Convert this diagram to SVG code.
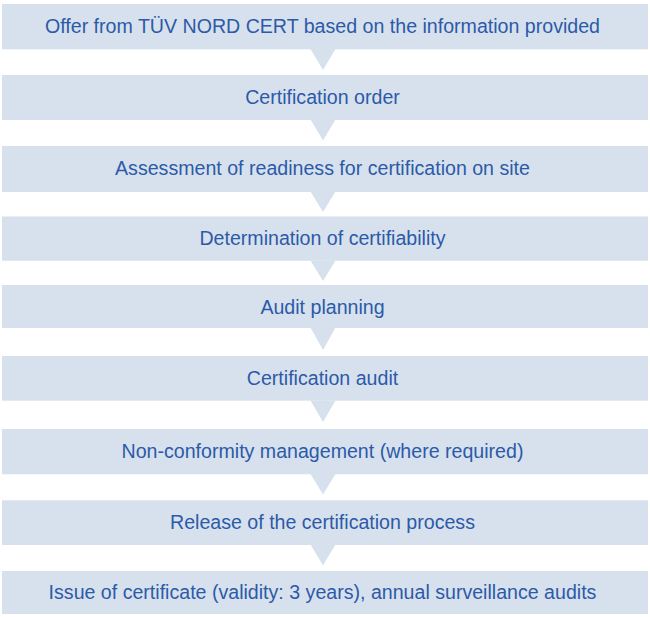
<svg xmlns="http://www.w3.org/2000/svg" width="650" height="617" viewBox="0 0 650 617">
<style>
.box{fill:#d7e1ed}
.lbl{font-family:"Liberation Sans",Arial,sans-serif;font-size:19.6px;fill:#2c5aa8;text-anchor:middle}
.tri{fill:#d7e1ed}
</style>
<rect width="650" height="617" fill="#ffffff"/>
<g id="connectors">
<polygon class="tri" points="310.5,49 335.5,49 323,70"/>
<polygon class="tri" points="310.5,119.5 335.5,119.5 323,140.5"/>
<polygon class="tri" points="310.5,191.5 335.5,191.5 323,212"/>
<polygon class="tri" points="310.5,260.5 335.5,260.5 323,281"/>
<polygon class="tri" points="310.5,327.5 335.5,327.5 323,350"/>
<polygon class="tri" points="310.5,400.5 335.5,400.5 323,422"/>
<polygon class="tri" points="310.5,474 335.5,474 323,494.5"/>
<polygon class="tri" points="310.5,544.5 335.5,544.5 323,565.5"/>
</g>
<g id="n1"><rect class="box" x="2" y="4" width="646" height="45.3"/><text class="lbl" x="322.5" y="32.5">Offer from TÜV NORD CERT based on the information provided</text></g>
<g id="n2"><rect class="box" x="2" y="75" width="646" height="45"/><text class="lbl" x="322.5" y="103.5">Certification order</text></g>
<g id="n3"><rect class="box" x="2" y="146" width="646" height="46"/><text class="lbl" x="322.5" y="175">Assessment of readiness for certification on site</text></g>
<g id="n4"><rect class="box" x="2" y="216.5" width="646" height="44.3"/><text class="lbl" x="322.5" y="244.7">Determination of certifiability</text></g>
<g id="n5"><rect class="box" x="2" y="285" width="646" height="43"/><text class="lbl" x="322.5" y="313.5">Audit planning</text></g>
<g id="n6"><rect class="box" x="2" y="356" width="646" height="44.7"/><text class="lbl" x="322.5" y="384.5">Certification audit</text></g>
<g id="n7"><rect class="box" x="2" y="429" width="646" height="45.3"/><text class="lbl" x="322.5" y="457.5">Non-conformity management (where required)</text></g>
<g id="n8"><rect class="box" x="2" y="500.3" width="646" height="44.7"/><text class="lbl" x="322.5" y="528.5">Release of the certification process</text></g>
<g id="n9"><rect class="box" x="2" y="571" width="646" height="43"/><text class="lbl" x="322.5" y="598.5">Issue of certificate (validity: 3 years), annual surveillance audits</text></g>
</svg>
